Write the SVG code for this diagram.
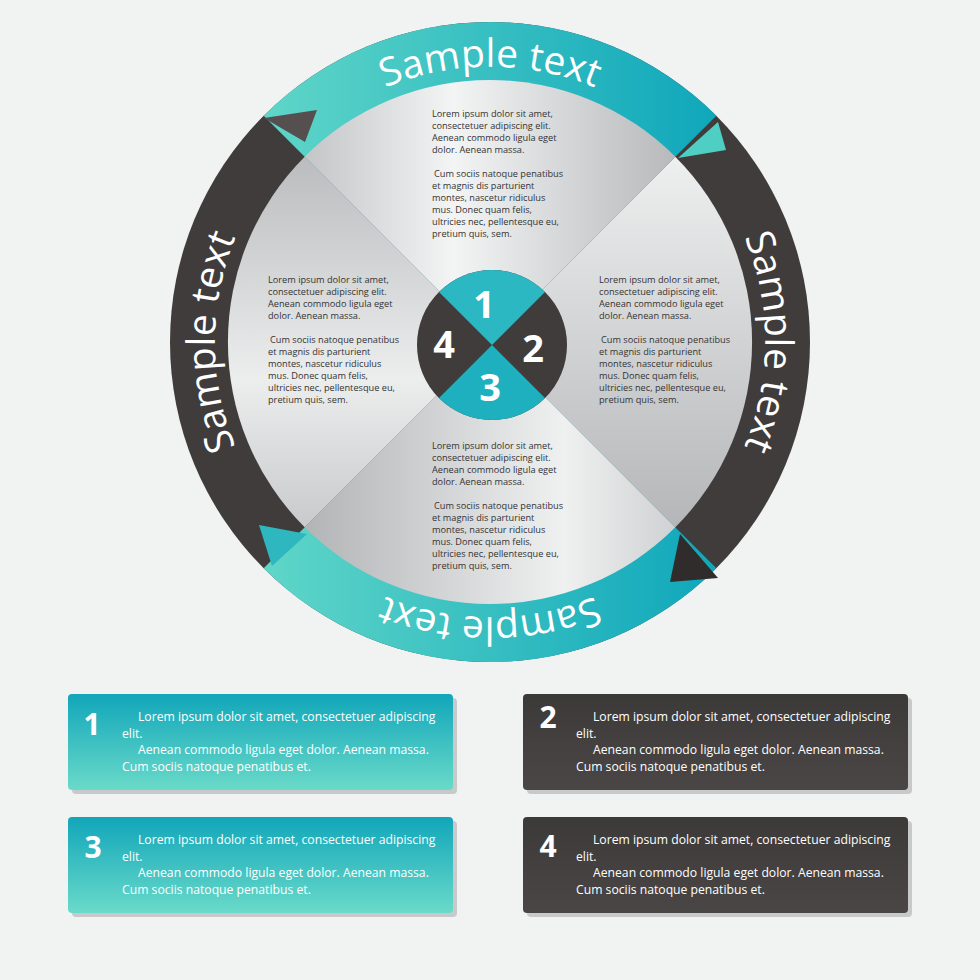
<svg xmlns="http://www.w3.org/2000/svg" width="980" height="980" viewBox="0 0 980 980">
<defs>
<linearGradient id="teal" x1="0" y1="0" x2="0" y2="1"><stop offset="0" stop-color="#11a6ba"/><stop offset="1" stop-color="#6adac9"/></linearGradient>
<linearGradient id="tealH" x1="0" y1="0" x2="1" y2="0"><stop offset="0" stop-color="#5fd6c8"/><stop offset="1" stop-color="#0fa7bb"/></linearGradient>
<linearGradient id="tealHr" x1="1" y1="0" x2="0" y2="0"><stop offset="0" stop-color="#0fa7bb"/><stop offset="1" stop-color="#5fd6c8"/></linearGradient>
<linearGradient id="dark" x1="0" y1="0" x2="0" y2="1"><stop offset="0" stop-color="#3c3a39"/><stop offset="1" stop-color="#4a4645"/></linearGradient>
<linearGradient id="gTop" x1="0" y1="0" x2="1" y2="0"><stop offset="0" stop-color="#c4c5c7"/><stop offset="0.4" stop-color="#f3f4f4"/><stop offset="1" stop-color="#b8b9bb"/></linearGradient>
<linearGradient id="gLeft" x1="0" y1="0" x2="0" y2="1"><stop offset="0" stop-color="#bbbcbe"/><stop offset="0.6" stop-color="#eceded"/><stop offset="1" stop-color="#c9cacc"/></linearGradient>
<linearGradient id="gRight" x1="0" y1="0" x2="0" y2="1"><stop offset="0" stop-color="#eeefef"/><stop offset="1" stop-color="#b5b6b8"/></linearGradient>
<linearGradient id="gBot" x1="0" y1="0" x2="1" y2="0"><stop offset="0" stop-color="#b3b4b6"/><stop offset="0.7" stop-color="#eff0f0"/><stop offset="1" stop-color="#d0d1d2"/></linearGradient>
<path id="ring" d="M 684.5,536.5 A 275 275 0 1 1 295.5,147.5 A 275 275 0 1 1 684.5,536.5"/>
</defs>
<style>
.p{font-family:"Open Sans","Liberation Sans",sans-serif;font-size:9.2px;fill:#333}
.rt{font-family:"Open Sans","Liberation Sans",sans-serif;font-size:39px;fill:#fff}
.num{font-family:"Open Sans","Liberation Sans",sans-serif;font-weight:bold;fill:#fff}
.bt{font-family:"Open Sans","Liberation Sans",sans-serif;font-size:12.2px;fill:#fff}
</style>
<rect width="980" height="980" fill="#f1f2f2"/>
<g id="wheel">
<circle cx="490" cy="342" r="320" fill="#3f3c3b"/>
<path d="M490,342 L263.7,115.7 A320 320 0 0 1 716.3,115.7 Z" fill="url(#tealH)"/>
<path d="M490,342 L716.3,568.3 A320 320 0 0 1 263.7,568.3 Z" fill="url(#tealHr)"/>
<path d="M490,342 L675.3,156.7 A262 262 0 0 1 675.3,527.3 Z" fill="url(#gRight)"/>
<path d="M490,342 L304.7,156.7 A262 262 0 0 1 675.3,156.7 Z" fill="url(#gTop)"/>
<path d="M490,342 L304.7,527.3 A262 262 0 0 1 304.7,156.7 Z" fill="url(#gLeft)"/>
<path d="M490,342 L675.3,527.3 A262 262 0 0 1 304.7,527.3 Z" fill="url(#gBot)"/>
<polygon points="264,118 317,110 305,142" fill="#55504f"/>
<polygon points="678,158 718,122 726,150" fill="#4fcfc4"/>
<polygon points="680,534 718,578 670,582" fill="#2f2c2b"/>
<polygon points="259,525 307,534 272,566" fill="#2fb7c0"/>
<text class="rt" text-anchor="middle"><textPath href="#ring" startOffset="216">Sample text</textPath></text>
<text class="rt" text-anchor="middle"><textPath href="#ring" startOffset="648">Sample text</textPath></text>
<text class="rt" text-anchor="middle"><textPath href="#ring" startOffset="1080">Sample text</textPath></text>
<text class="rt" text-anchor="middle"><textPath href="#ring" startOffset="1512">Sample text</textPath></text>
</g>
<g id="hub">
<circle cx="492" cy="345" r="75" fill="#3f3c3b"/>
<path d="M492,345 L439,292 A75 75 0 0 1 545,292 Z" fill="#2bb8c2"/>
<path d="M492,345 L545,398 A75 75 0 0 1 439,398 Z" fill="#1fb0bf"/>
<text class="num" x="484" y="318" font-size="38" text-anchor="middle">1</text>
<text class="num" x="533" y="362" font-size="38" text-anchor="middle">2</text>
<text class="num" x="490" y="401" font-size="38" text-anchor="middle">3</text>
<text class="num" x="444" y="358" font-size="38" text-anchor="middle">4</text>
</g>
<g id="t1" class="p"><text x="432" y="117">Lorem ipsum dolor sit amet,</text><text x="432" y="129">consectetuer adipiscing elit.</text><text x="432" y="141">Aenean commodo ligula eget</text><text x="432" y="153">dolor. Aenean massa.</text><text x="434" y="177">Cum sociis natoque penatibus</text><text x="432" y="189">et magnis dis parturient</text><text x="432" y="201">montes, nascetur ridiculus</text><text x="432" y="213">mus. Donec quam felis,</text><text x="432" y="225">ultricies nec, pellentesque eu,</text><text x="432" y="237">pretium quis, sem.</text></g>
<g id="t4" class="p"><text x="268" y="283">Lorem ipsum dolor sit amet,</text><text x="268" y="295">consectetuer adipiscing elit.</text><text x="268" y="307">Aenean commodo ligula eget</text><text x="268" y="319">dolor. Aenean massa.</text><text x="270" y="343">Cum sociis natoque penatibus</text><text x="268" y="355">et magnis dis parturient</text><text x="268" y="367">montes, nascetur ridiculus</text><text x="268" y="379">mus. Donec quam felis,</text><text x="268" y="391">ultricies nec, pellentesque eu,</text><text x="268" y="403">pretium quis, sem.</text></g>
<g id="t2" class="p"><text x="599" y="283">Lorem ipsum dolor sit amet,</text><text x="599" y="295">consectetuer adipiscing elit.</text><text x="599" y="307">Aenean commodo ligula eget</text><text x="599" y="319">dolor. Aenean massa.</text><text x="601" y="343">Cum sociis natoque penatibus</text><text x="599" y="355">et magnis dis parturient</text><text x="599" y="367">montes, nascetur ridiculus</text><text x="599" y="379">mus. Donec quam felis,</text><text x="599" y="391">ultricies nec, pellentesque eu,</text><text x="599" y="403">pretium quis, sem.</text></g>
<g id="t3" class="p"><text x="432" y="449">Lorem ipsum dolor sit amet,</text><text x="432" y="461">consectetuer adipiscing elit.</text><text x="432" y="473">Aenean commodo ligula eget</text><text x="432" y="485">dolor. Aenean massa.</text><text x="434" y="509">Cum sociis natoque penatibus</text><text x="432" y="521">et magnis dis parturient</text><text x="432" y="533">montes, nascetur ridiculus</text><text x="432" y="545">mus. Donec quam felis,</text><text x="432" y="557">ultricies nec, pellentesque eu,</text><text x="432" y="569">pretium quis, sem.</text></g>
<g id="box1"><rect x="72" y="698" width="385" height="96" rx="4" fill="#c8c9ca"/><rect x="68" y="694" width="385" height="96" rx="4" fill="url(#teal)"/><text class="num" x="92" y="735" font-size="30" text-anchor="middle">1</text><text class="bt"><tspan x="138" y="721">Lorem ipsum dolor sit amet, consectetuer adipiscing</tspan><tspan x="122" y="738">elit.</tspan><tspan x="138" y="754">Aenean commodo ligula eget dolor. Aenean massa.</tspan><tspan x="122" y="771">Cum sociis natoque penatibus et.</tspan></text></g>
<g id="box2"><rect x="527" y="698" width="385" height="96" rx="4" fill="#c8c9ca"/><rect x="523" y="694" width="385" height="96" rx="4" fill="url(#dark)"/><text class="num" x="548" y="728" font-size="30" text-anchor="middle">2</text><text class="bt"><tspan x="593" y="721">Lorem ipsum dolor sit amet, consectetuer adipiscing</tspan><tspan x="576" y="738">elit.</tspan><tspan x="593" y="754">Aenean commodo ligula eget dolor. Aenean massa.</tspan><tspan x="576" y="771">Cum sociis natoque penatibus et.</tspan></text></g>
<g id="box3"><rect x="72" y="821" width="385" height="96" rx="4" fill="#c8c9ca"/><rect x="68" y="817" width="385" height="96" rx="4" fill="url(#teal)"/><text class="num" x="93" y="858" font-size="30" text-anchor="middle">3</text><text class="bt"><tspan x="138" y="844">Lorem ipsum dolor sit amet, consectetuer adipiscing</tspan><tspan x="122" y="861">elit.</tspan><tspan x="138" y="877">Aenean commodo ligula eget dolor. Aenean massa.</tspan><tspan x="122" y="894">Cum sociis natoque penatibus et.</tspan></text></g>
<g id="box4"><rect x="527" y="821" width="385" height="96" rx="4" fill="#c8c9ca"/><rect x="523" y="817" width="385" height="96" rx="4" fill="url(#dark)"/><text class="num" x="548" y="857" font-size="30" text-anchor="middle">4</text><text class="bt"><tspan x="593" y="844">Lorem ipsum dolor sit amet, consectetuer adipiscing</tspan><tspan x="576" y="861">elit.</tspan><tspan x="593" y="877">Aenean commodo ligula eget dolor. Aenean massa.</tspan><tspan x="576" y="894">Cum sociis natoque penatibus et.</tspan></text></g>
</svg>
